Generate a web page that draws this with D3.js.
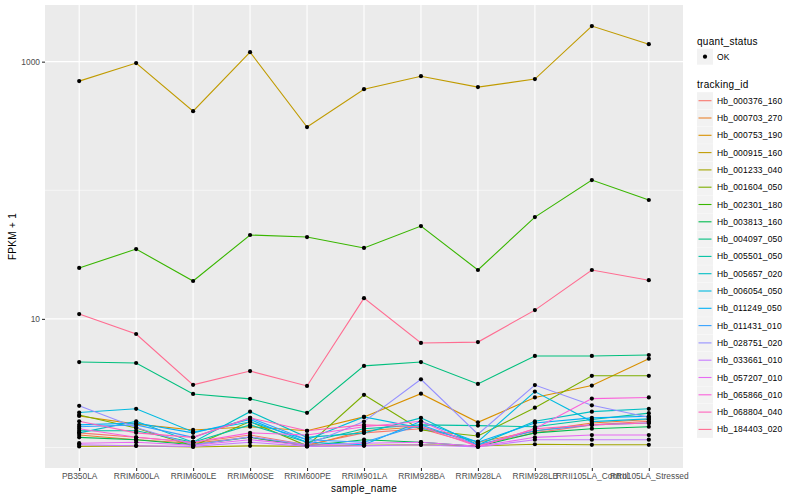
<!DOCTYPE html>
<html>
<head>
<meta charset="utf-8">
<script src="https://cdn.jsdelivr.net/npm/d3@7"></script>
<style>
  body { margin: 0; background: #ffffff; }
  svg { display: block; font-family: "Liberation Sans", Arial, Helvetica, sans-serif; }
</style>
</head>
<body>
<svg id="chart" width="800" height="500"></svg>
<script>
// ---------- data ----------
const sampleNames = ["PB350LA","RRIM600LA","RRIM600LE","RRIM600SE","RRIM600PE","RRIM901LA","RRIM928BA","RRIM928LA","RRIM928LB","RRII105LA_Control","RRII105LA_Stressed"];

const trackingIds = ["Hb_000376_160","Hb_000703_270","Hb_000753_190","Hb_000915_160","Hb_001233_040","Hb_001604_050","Hb_002301_180","Hb_003813_160","Hb_004097_050","Hb_005501_050","Hb_005657_020","Hb_006054_050","Hb_011249_050","Hb_011431_010","Hb_028751_020","Hb_033661_010","Hb_057207_010","Hb_065866_010","Hb_068804_040","Hb_184403_020"];

const seriesColors = ["#F8766D","#EA8331","#D89000","#C09B00","#A3A500","#7CAE00","#39B600","#00BB4E","#00BF7D","#00C1A3","#00BFC4","#00BAE0","#00B0F6","#35A2FF","#9590FF","#C77CFF","#E76BF3","#FA62DB","#FF62BC","#FF6C91"];

// FPKM + 1 per tracking_id, in sampleNames order
const fpkmPlus1 = [
  [1.30, 1.20, 1.10, 1.25, 1.05, 1.30, 1.40, 1.05, 1.30, 1.50, 1.60],
  [1.25, 1.15, 1.08, 1.20, 1.03, 1.35, 1.45, 1.10, 1.34, 1.55, 1.65],
  [1.76, 1.52, 1.37, 1.45, 1.35, 1.73, 2.62, 1.57, 2.45, 3.03, 4.90],
  [706, 975, 412, 1186, 310, 611, 771, 634, 732, 1892, 1368],
  [1.02, 1.03, 1.01, 1.03, 1.02, 1.04, 1.05, 1.03, 1.06, 1.05, 1.05],
  [1.79, 1.42, 1.03, 1.59, 1.03, 2.57, 1.37, 1.23, 2.04, 3.61, 3.61],
  [24.9, 34.9, 19.7, 44.9, 43.3, 35.6, 52.7, 24.0, 61.9, 120, 84],
  [1.20, 1.15, 1.05, 1.20, 1.03, 1.15, 1.10, 1.02, 1.30, 1.40, 1.45],
  [4.62, 4.54, 2.61, 2.39, 1.86, 4.31, 4.62, 3.12, 5.15, 5.15, 5.24],
  [1.35, 1.35, 1.10, 1.50, 1.10, 1.40, 1.50, 1.48, 1.45, 1.65, 1.85],
  [1.30, 1.60, 1.10, 1.90, 1.20, 1.30, 1.70, 1.05, 1.60, 1.90, 2.00],
  [1.87, 2.00, 1.32, 1.58, 1.15, 1.73, 1.42, 1.11, 2.72, 1.59, 1.67],
  [1.50, 1.55, 1.30, 1.65, 1.10, 1.05, 1.60, 1.10, 1.55, 1.70, 1.75],
  [1.45, 1.50, 1.20, 1.70, 1.15, 1.10, 1.50, 1.05, 1.35, 1.50, 1.55],
  [2.11, 1.43, 1.05, 1.21, 1.05, 1.59, 3.39, 1.27, 3.06, 2.13, 1.72],
  [1.05, 1.03, 1.02, 1.10, 1.02, 1.03, 1.05, 1.01, 1.15, 1.15, 1.15],
  [1.08, 1.10, 1.04, 1.15, 1.04, 1.08, 1.10, 1.02, 1.20, 1.25, 1.25],
  [1.40, 1.20, 1.10, 1.30, 1.25, 1.45, 1.60, 1.02, 1.40, 2.40, 2.45],
  [1.60, 1.30, 1.20, 1.70, 1.35, 1.50, 1.45, 1.02, 1.40, 1.50, 1.55],
  [10.9, 7.63, 3.07, 3.93, 3.01, 14.5, 6.5, 6.6, 11.7, 24.0, 20.0]
];

const yTickValues = [10, 1000];
const yMinorValues = [1, 100];
const quantStatus = ["OK"];

// ---------- layout ----------
const svg = d3.select("#chart");
const panel = { left: 45, top: 5, right: 683, bottom: 468 };

const x = d3.scalePoint().domain(sampleNames).range([panel.left, panel.right]).padding(0.6);

const allVals = fpkmPlus1.flat();
const lmin = Math.log10(d3.min(allVals)), lmax = Math.log10(d3.max(allVals));
const pad = (lmax - lmin) * 0.05;
const y = d3.scaleLog().domain([Math.pow(10, lmin - pad), Math.pow(10, lmax + pad)]).range([panel.bottom, panel.top]);

// panel background
svg.append("rect").attr("x", panel.left).attr("y", panel.top)
  .attr("width", panel.right - panel.left).attr("height", panel.bottom - panel.top)
  .attr("fill", "#EBEBEB");

// minor gridlines
svg.append("g").selectAll("line").data(yMinorValues).join("line")
  .attr("x1", panel.left).attr("x2", panel.right)
  .attr("y1", d => y(d)).attr("y2", d => y(d))
  .attr("stroke", "#ffffff").attr("stroke-width", 0.55);

// major gridlines
svg.append("g").selectAll("line").data(yTickValues).join("line")
  .attr("x1", panel.left).attr("x2", panel.right)
  .attr("y1", d => y(d)).attr("y2", d => y(d))
  .attr("stroke", "#ffffff").attr("stroke-width", 1.1);
svg.append("g").selectAll("line").data(sampleNames).join("line")
  .attr("x1", d => x(d)).attr("x2", d => x(d))
  .attr("y1", panel.top).attr("y2", panel.bottom)
  .attr("stroke", "#ffffff").attr("stroke-width", 1.1);

// lines
const line = d3.line().x((d, i) => x(sampleNames[i])).y(d => y(d));
svg.append("g").selectAll("path").data(fpkmPlus1).join("path")
  .attr("d", d => line(d))
  .attr("fill", "none")
  .attr("stroke", (d, i) => seriesColors[i])
  .attr("stroke-width", 1.1);

// points
const pts = [];
fpkmPlus1.forEach((s, si) => s.forEach((v, i) => pts.push({ s: sampleNames[i], v })));
svg.append("g").selectAll("circle").data(pts).join("circle")
  .attr("cx", d => x(d.s)).attr("cy", d => y(d.v)).attr("r", 2.1)
  .attr("fill", "#000000");

// axes
const xAxis = svg.append("g").attr("transform", `translate(0,${panel.bottom})`)
  .call(d3.axisBottom(x).tickSize(3).tickPadding(2));
const yAxis = svg.append("g").attr("transform", `translate(${panel.left},0)`)
  .call(d3.axisLeft(y).tickValues(yTickValues).tickFormat(d3.format("d")).tickSize(3).tickPadding(2));
[xAxis, yAxis].forEach(g => {
  g.select(".domain").remove();
  g.selectAll(".tick line").attr("stroke", "#333333").attr("stroke-width", 1.1);
  g.selectAll(".tick text").attr("fill", "#4D4D4D").style("font-size", "8.4px")
    .style("font-family", "'Liberation Sans', Arial, sans-serif");
});

// axis titles
svg.append("text").attr("x", (panel.left + panel.right) / 2).attr("y", 492)
  .attr("text-anchor", "middle").attr("fill", "#000").style("font-size", "10px")
  .style("letter-spacing", "0.3px").text("sample_name");
svg.append("text").attr("transform", `translate(16,${(panel.top + panel.bottom) / 2}) rotate(-90)`)
  .attr("text-anchor", "middle").attr("fill", "#000").style("font-size", "10px")
  .style("letter-spacing", "0.3px").text("FPKM + 1");

// legend
const lg = svg.append("g");
const keyX = 697, keyW = 16, step = 17.3;
lg.append("text").attr("x", keyX).attr("y", 44.5).style("font-size", "10px")
  .style("letter-spacing", "0.3px").attr("fill", "#000").text("quant_status");
quantStatus.forEach((q, i) => {
  lg.append("rect").attr("x", keyX).attr("y", 56.7 - keyW / 2).attr("width", keyW).attr("height", keyW).attr("fill", "#F2F2F2");
  lg.append("circle").attr("cx", keyX + keyW / 2).attr("cy", 56.7).attr("r", 2.1).attr("fill", "#000");
  lg.append("text").attr("x", 717).attr("y", 59.8).style("font-size", "8.5px")
    .style("letter-spacing", "0.2px").attr("fill", "#000").text(q);
});
lg.append("text").attr("x", keyX).attr("y", 88).style("font-size", "10px")
  .style("letter-spacing", "0.3px").attr("fill", "#000").text("tracking_id");
const entries = lg.selectAll("g.entry").data(trackingIds).join("g").attr("class", "entry")
  .attr("transform", (d, i) => `translate(0,${100.7 + i * step})`);
entries.append("rect").attr("x", keyX).attr("y", -keyW / 2 - 0.5).attr("width", keyW).attr("height", keyW + 1).attr("fill", "#F2F2F2");
entries.append("line").attr("x1", keyX + 1.5).attr("x2", keyX + keyW - 1.5).attr("y1", 0).attr("y2", 0)
  .attr("stroke", (d, i) => seriesColors[i]).attr("stroke-width", 1.1);
entries.append("text").attr("x", 717).attr("y", 3.0).style("font-size", "8.5px")
  .style("letter-spacing", "0.2px").attr("fill", "#000").text(d => d);
</script>
</body>
</html>
